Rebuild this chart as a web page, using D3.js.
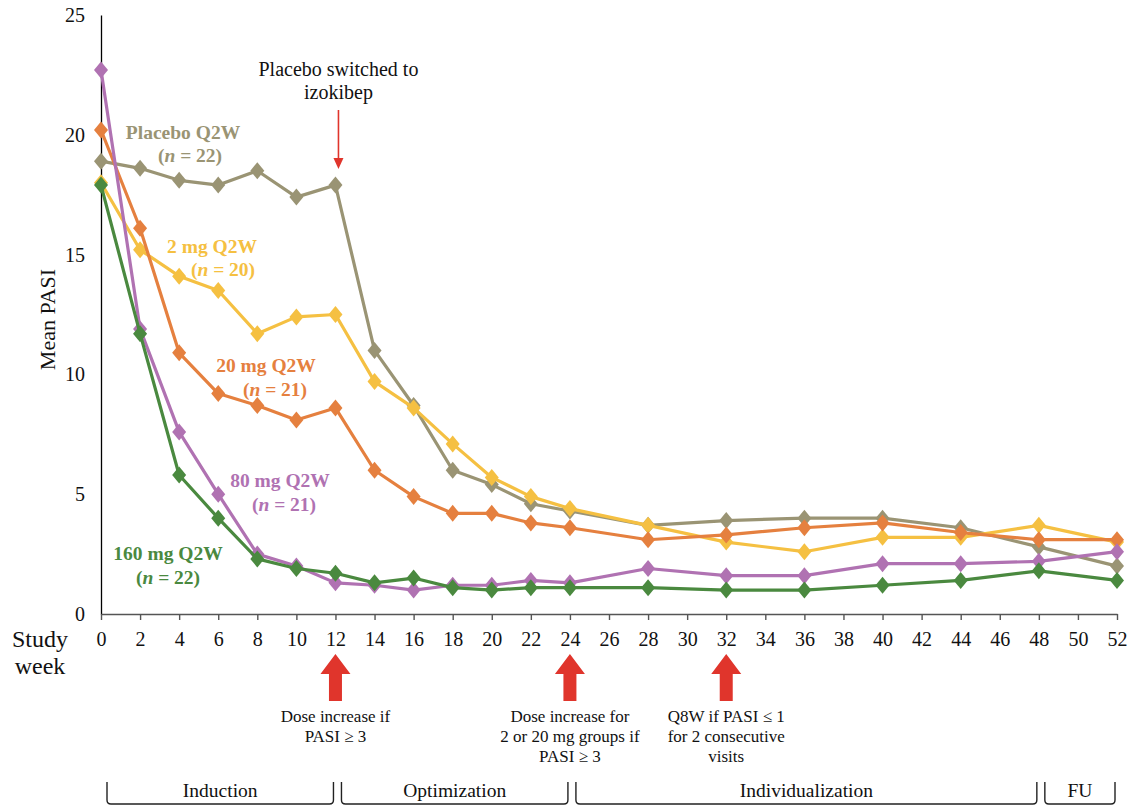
<!DOCTYPE html>
<html>
<head>
<meta charset="utf-8">
<script src="https://cdn.jsdelivr.net/npm/d3@7"></script>
<style>
  html, body { margin: 0; padding: 0; background: #fff; }
  svg { display: block; }
  text { font-family: "Liberation Serif", "Times New Roman", serif; }
</style>
</head>
<body>
<div id="chart"></div>
<script>
// Study visits (weeks) at which mean PASI was assessed
const weeks = [0, 2, 4, 6, 8, 10, 12, 14, 16, 18, 20, 22, 24, 28, 32, 36, 40, 44, 48, 52];

// Mean PASI per arm
const placebo = [18.9, 18.6, 18.1, 17.9, 18.5, 17.4, 17.9, 11.0, 8.7, 6.0, 5.4, 4.6, 4.3, 3.7, 3.9, 4.0, 4.0, 3.6, 2.8, 2.0];
const mg2     = [18.0, 15.2, 14.1, 13.5, 11.7, 12.4, 12.5, 9.7, 8.6, 7.1, 5.7, 4.9, 4.4, 3.7, 3.0, 2.6, 3.2, 3.2, 3.7, 3.0];
const mg20    = [20.2, 16.1, 10.9, 9.2, 8.7, 8.1, 8.6, 6.0, 4.9, 4.2, 4.2, 3.8, 3.6, 3.1, 3.3, 3.6, 3.8, 3.4, 3.1, 3.1];
const mg80    = [22.7, 11.9, 7.6, 5.0, 2.5, 2.0, 1.3, 1.2, 1.0, 1.2, 1.2, 1.4, 1.3, 1.9, 1.6, 1.6, 2.1, 2.1, 2.2, 2.6];
const mg160   = [17.9, 11.7, 5.8, 4.0, 2.3, 1.9, 1.7, 1.3, 1.5, 1.1, 1.0, 1.1, 1.1, 1.1, 1.0, 1.0, 1.2, 1.4, 1.8, 1.4];

// Axis ticks
const xTicks = d3.range(0, 53, 2);
const yTicks = [0, 5, 10, 15, 20, 25];

// Series names and group sizes
const seriesNames = ["Placebo Q2W", "2 mg Q2W", "20 mg Q2W", "80 mg Q2W", "160 mg Q2W"];
const seriesN = [22, 20, 21, 21, 22];

// Study periods (start week, end week)
const periods = [
  { name: "Induction", from: 0, to: 12 },
  { name: "Optimization", from: 12, to: 24 },
  { name: "Individualization", from: 24, to: 48 },
  { name: "FU", from: 48, to: 52 }
];

// Dosing-rule annotations below the axis
const doseNotes = [
  { week: 12, lines: ["Dose increase if", "PASI \u2265 3"] },
  { week: 24, lines: ["Dose increase for", "2 or 20 mg groups if", "PASI \u2265 3"] },
  { week: 32, lines: ["Q8W if PASI \u2264 1", "for 2 consecutive", "visits"] }
];

const W = 1127, H = 807;
const plotLeft = 101, plotRight = 1117, plotTop = 15, plotBottom = 614;

const svg = d3.select("#chart").append("svg").attr("width", W).attr("height", H);

const x = d3.scaleLinear().domain([0, 52]).range([plotLeft, plotRight]);
const y = d3.scaleLinear().domain([0, 25]).range([plotBottom, plotTop]);

// Y axis: plain line with labels, no tick marks
const yAxis = svg.append("g").attr("transform", `translate(${plotLeft},0)`)
  .call(d3.axisLeft(y).tickValues(yTicks).tickSize(0).tickPadding(16));
yAxis.select(".domain").attr("stroke", "#000").attr("stroke-width", 1.3);
yAxis.selectAll("text").attr("font-size", 20).attr("fill", "#111")
  .style("font-family", "'Liberation Serif', serif");

// X axis: ticks pointing down every 2 weeks
const xAxis = svg.append("g").attr("transform", `translate(0,${plotBottom})`)
  .call(d3.axisBottom(x).tickValues(xTicks).tickSize(6).tickPadding(12).tickSizeOuter(0));
xAxis.select(".domain").attr("stroke", "#555").attr("stroke-width", 1.6);
xAxis.selectAll(".tick line").attr("stroke", "#555").attr("stroke-width", 1.4);
xAxis.selectAll("text").attr("font-size", 20).attr("fill", "#111")
  .style("font-family", "'Liberation Serif', serif");

// Axis titles
svg.append("text")
  .attr("transform", `translate(55,${(plotTop + plotBottom) / 2 + 5}) rotate(-90)`)
  .attr("text-anchor", "middle").attr("font-size", 22).attr("fill", "#111")
  .text("Mean PASI");
svg.append("text").attr("x", 40).attr("y", 647).attr("text-anchor", "middle")
  .attr("font-size", 24).attr("fill", "#111").text("Study");
svg.append("text").attr("x", 40).attr("y", 674).attr("text-anchor", "middle")
  .attr("font-size", 24).attr("fill", "#111").text("week");

// Series
const series = [
  { name: seriesNames[0], n: seriesN[0], values: placebo, color: "#9a9474" },
  { name: seriesNames[1], n: seriesN[1], values: mg2, color: "#f5c042" },
  { name: seriesNames[2], n: seriesN[2], values: mg20, color: "#e5803f" },
  { name: seriesNames[3], n: seriesN[3], values: mg80, color: "#b072b2" },
  { name: seriesNames[4], n: seriesN[4], values: mg160, color: "#4a893f" }
];

const line = d3.line().x((d, i) => x(weeks[i])).y(d => y(d));
const diamond = "M0,-8.5L7,0L0,8.5L-7,0Z";

series.forEach(s => {
  const g = svg.append("g");
  g.append("path").datum(s.values)
    .attr("d", line).attr("fill", "none")
    .attr("stroke", s.color).attr("stroke-width", 3.2)
    .attr("stroke-linejoin", "round");
  g.selectAll("path.pt").data(s.values).join("path")
    .attr("class", "pt")
    .attr("d", diamond)
    .attr("transform", (d, i) => `translate(${x(weeks[i])},${y(d)})`)
    .attr("fill", s.color);
});

// Series labels
const labelPos = [
  { x1: 183, y1: 139, x2: 190, y2: 162 },
  { x1: 212, y1: 253, x2: 223, y2: 276 },
  { x1: 266, y1: 372, x2: 275, y2: 396 },
  { x1: 280, y1: 487, x2: 284, y2: 511 },
  { x1: 168, y1: 560, x2: 168, y2: 584 }
];
series.forEach((s, k) => {
  const p = labelPos[k];
  svg.append("text").attr("x", p.x1).attr("y", p.y1).attr("text-anchor", "middle")
    .attr("font-size", 19.5).attr("font-weight", "bold").attr("fill", s.color)
    .text(s.name);
  const t = svg.append("text").attr("x", p.x2).attr("y", p.y2).attr("text-anchor", "middle")
    .attr("font-size", 19.5).attr("font-weight", "bold").attr("fill", s.color);
  t.append("tspan").text("(");
  t.append("tspan").attr("font-style", "italic").text("n");
  t.append("tspan").text(` = ${s.n})`);
});

// Placebo switch annotation
const sx = x(12) + 3;
svg.append("text").attr("x", sx).attr("y", 76).attr("text-anchor", "middle")
  .attr("font-size", 20).attr("fill", "#111").text("Placebo switched to");
svg.append("text").attr("x", sx).attr("y", 99).attr("text-anchor", "middle")
  .attr("font-size", 20).attr("fill", "#111").text("izokibep");
svg.append("line").attr("x1", sx).attr("x2", sx).attr("y1", 110).attr("y2", 160)
  .attr("stroke", "#e0352c").attr("stroke-width", 1.6);
svg.append("path").attr("d", `M${sx - 5},158L${sx + 5},158L${sx},169Z`).attr("fill", "#e0352c");

// Dosing-rule block arrows and notes
doseNotes.forEach(n => {
  const cx = x(n.week);
  const tipY = 654, headY = 674, baseY = 701;
  svg.append("path")
    .attr("d", `M${cx},${tipY}L${cx + 15},${headY}L${cx + 6.5},${headY}L${cx + 6.5},${baseY}` +
               `L${cx - 6.5},${baseY}L${cx - 6.5},${headY}L${cx - 15},${headY}Z`)
    .attr("fill", "#e0352c");
  n.lines.forEach((ln, i) => {
    svg.append("text").attr("x", cx).attr("y", 722 + i * 20).attr("text-anchor", "middle")
      .attr("font-size", 17).attr("fill", "#111").text(ln);
  });
});

// Study period brackets
periods.forEach(p => {
  const x0 = x(p.from) + 6;
  const x1 = x(p.to) - 2;
  const yt = 782, yb = 804, r = 4;
  svg.append("path")
    .attr("d", `M${x0},${yt}L${x0},${yb - r}Q${x0},${yb} ${x0 + r},${yb}L${x1 - r},${yb}Q${x1},${yb} ${x1},${yb - r}L${x1},${yt}`)
    .attr("fill", "none").attr("stroke", "#222").attr("stroke-width", 1.4);
  svg.append("text").attr("x", (x0 + x1) / 2).attr("y", 797).attr("text-anchor", "middle")
    .attr("font-size", 19.5).attr("fill", "#111").text(p.name);
});
</script>
</body>
</html>
